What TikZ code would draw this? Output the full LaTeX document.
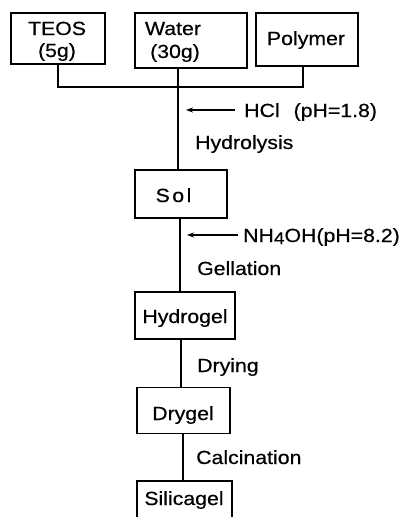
\documentclass[tikz,border=0pt]{standalone}
\usepackage{fontspec}
\setmainfont{Liberation Sans}[FakeStretch=1.12,FakeBold=0.5]
\usetikzlibrary{arrows.meta}
\begin{document}
\begin{tikzpicture}[x=1pt,y=-1pt,
  font=\fontsize{19}{23}\selectfont,
  box/.style={draw, line width=1.3pt, inner sep=0pt},
  txt/.style={anchor=base, inner sep=0pt},
  lab/.style={anchor=base west, inner sep=0pt},
  conn/.style={line width=1.3pt},
  addarr/.style={line width=1.1pt, -{Stealth[length=7pt,width=5pt]}}]
\useasboundingbox (0,0) rectangle (402,517);
\clip (0,0) rectangle (402,517);
% boxes
\node[box, minimum width=94pt, minimum height=51pt] (teos) at (58,38.5) {};
\node[box, minimum width=112pt, minimum height=55pt] (water) at (191,40.5) {};
\node[box, minimum width=102pt, minimum height=53pt] (poly) at (307,39.5) {};
\node[box, minimum width=92pt, minimum height=48pt] (sol) at (181,194) {};
\node[box, minimum width=100pt, minimum height=47pt] (hydro) at (185,315.5) {};
\node[box, minimum width=93pt, minimum height=46pt] (dry) at (183.5,410.5) {};
\node[box, minimum width=95pt, minimum height=48pt] (sili) at (184.5,505) {};
% box texts
\node[txt] (teost) at (57,35) {TEOS};
\node[txt] (teosg) at (57,57) {(5g)};
\node[txt] (watert) at (173,35) {Water};
\node[txt] (waterg) at (175,58) {(30g)};
\node[txt] (polyt) at (306,45) {Polymer};
\node[txt] (solt) at (173.5,202) {S\hspace{2.5pt}o\hspace{2.5pt}l};
\node[txt] (hydrot) at (185,323) {Hydrogel};
\node[txt] (dryt) at (183,420) {Drygel};
\node[txt] (silit) at (184,505) {Silicagel};
% connectors
\coordinate (j) at (178,87);
\coordinate (pb) at (303,66);
\draw[conn] (teos.south) |- (j) -| (pb);
\coordinate (wb) at (178,68);
\draw[conn] (wb) -- (wb |- sol.north);
\coordinate (sb) at (180,218);
\draw[conn] (sb) -- (sb |- hydro.north);
\coordinate (hb) at (181,339);
\draw[conn] (hb) -- (hb |- dry.north);
\coordinate (db) at (183,433.5);
\draw[conn] (db) -- (db |- sili.north);
% additions
\coordinate (hcls) at (235,110);
\coordinate (hcle) at (186,110);
\draw[addarr] (hcls) -- (hcle);
\node[lab] (hcl) at (244,117) {HCl\hspace{14pt}(pH=1.8)};
\coordinate (nhs) at (238,235);
\coordinate (nhe) at (187,235);
\draw[addarr] (nhs) -- (nhe);
\node[lab] (nh) at (243,242) {NH\raisebox{-2pt}{\fontsize{17}{20}\selectfont 4}OH(pH=8.2)};
% process labels
\node[lab] (hydl) at (195,149) {Hydrolysis};
\node[lab] (gell) at (197,275) {Gellation};
\node[lab] (dryl) at (197,372) {Drying};
\node[lab] (calc) at (196,464) {Calcination};
\end{tikzpicture}
\end{document}
